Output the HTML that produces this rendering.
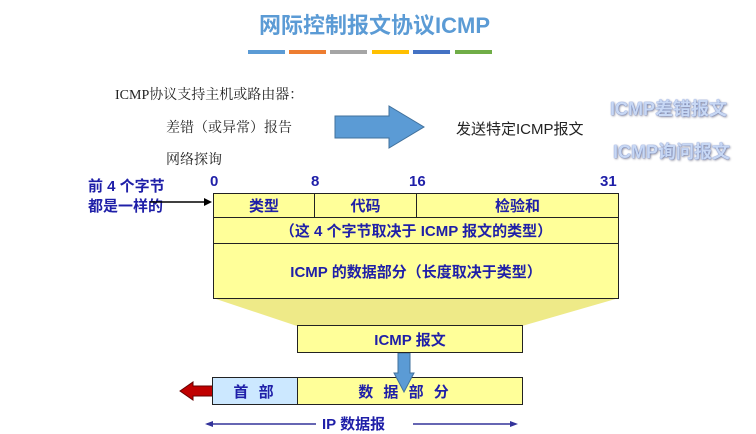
<!DOCTYPE html>
<html><head><meta charset="utf-8"><style>
body{margin:0;width:756px;height:430px;background:#fff;position:relative;overflow:hidden;font-family:"Liberation Sans","Noto Sans CJK SC",sans-serif}
.a{position:absolute;white-space:nowrap}
.b{color:#1f1fa8;font-weight:bold;font-size:15px}
.s{font-family:"Liberation Serif","Noto Serif CJK SC",serif;font-size:14px;color:#222}
.y{position:absolute;background:#ffff99;border:1px solid #222;box-sizing:border-box;display:flex;align-items:center;justify-content:center}
.g{color:#c8d8f4;font-size:18px;font-weight:bold;text-shadow:0 0 1px #3b5fc0,1px 1px 2px #889}
</style></head><body>
<div class="a" style="left:259px;top:8px;font-size:22px;color:#5b9bd5;font-weight:bold">网际控制报文协议ICMP</div>
<div class="a" style="top:50px;left:248px;width:37px;height:4px;background:#5b9bd5"></div>
<div class="a" style="top:50px;left:289px;width:37px;height:4px;background:#ed7d31"></div>
<div class="a" style="top:50px;left:330px;width:37px;height:4px;background:#a5a5a5"></div>
<div class="a" style="top:50px;left:372px;width:37px;height:4px;background:#ffc000"></div>
<div class="a" style="top:50px;left:413px;width:37px;height:4px;background:#4472c4"></div>
<div class="a" style="top:50px;left:455px;width:37px;height:4px;background:#70ad47"></div>
<div class="a s" style="left:115px;top:84px">ICMP协议支持主机或路由器：</div>
<div class="a s" style="left:166px;top:117px">差错（或异常）报告</div>
<div class="a s" style="left:166px;top:149px">网络探询</div>
<svg class="a" style="left:334px;top:105px" width="92" height="44"><polygon points="1,11 55,11 55,1 90,22 55,43 55,33 1,33" fill="#5b9bd5" stroke="#41719c"/></svg>
<div class="a" style="left:456px;top:118px;font-size:15px;color:#222">发送特定ICMP报文</div>
<div class="a g" style="left:610px;top:95px">ICMP差错报文</div>
<div class="a g" style="left:613px;top:138px">ICMP询问报文</div>
<div class="a b" style="left:88px;top:177px;line-height:20px">前 4 个字节<br>都是一样的</div>
<svg class="a" style="left:0;top:0" width="756" height="430">
<line x1="150" y1="202" x2="206" y2="202" stroke="#000" stroke-width="1.5"/><polygon points="212,202 204,198 204,206" fill="#000"/>
<polygon points="213,298 619,298 522,326 297,326" fill="#eeea88"/>
<line x1="207" y1="424" x2="316" y2="424" stroke="#33339a" stroke-width="1.5"/><polygon points="205,424 213,421 213,427" fill="#33339a"/>
<line x1="413" y1="424" x2="515" y2="424" stroke="#33339a" stroke-width="1.5"/><polygon points="518,424 510,421 510,427" fill="#33339a"/>
<polygon points="180,391 193,382 193,386 213,386 213,396 193,396 193,400" fill="#c00000" stroke="#600" stroke-width="1"/>
</svg>
<div class="a b" style="left:210px;top:173px">0</div>
<div class="a b" style="left:311px;top:173px">8</div>
<div class="a b" style="left:409px;top:173px">16</div>
<div class="a b" style="left:600px;top:173px">31</div>
<div class="y b" style="left:213px;top:193px;width:102px;height:25px">类型</div>
<div class="y b" style="left:314px;top:193px;width:103px;height:25px">代码</div>
<div class="y b" style="left:416px;top:193px;width:203px;height:25px">检验和</div>
<div class="y b" style="left:213px;top:217px;width:406px;height:27px">（这 4 个字节取决于 ICMP 报文的类型）</div>
<div class="y b" style="left:213px;top:243px;width:406px;height:56px">ICMP 的数据部分（长度取决于类型）</div>
<div class="y b" style="left:297px;top:325px;width:226px;height:28px">ICMP 报文</div>
<div class="y b" style="left:212px;top:377px;width:86px;height:28px;background:#cce8ff;letter-spacing:3px">首 部</div>
<div class="y b" style="left:297px;top:377px;width:226px;height:28px;letter-spacing:3px;padding-right:10px">数 据 部 分</div>
<svg class="a" style="left:393px;top:353px" width="22" height="40"><polygon points="5,0 17,0 17,20 21,20 11,39 1,20 5,20" fill="#5b9bd5" stroke="#41719c"/></svg>
<div class="a b" style="left:320px;top:413px;background:#fff;padding:0 2px">IP 数据报</div>
</body></html>
